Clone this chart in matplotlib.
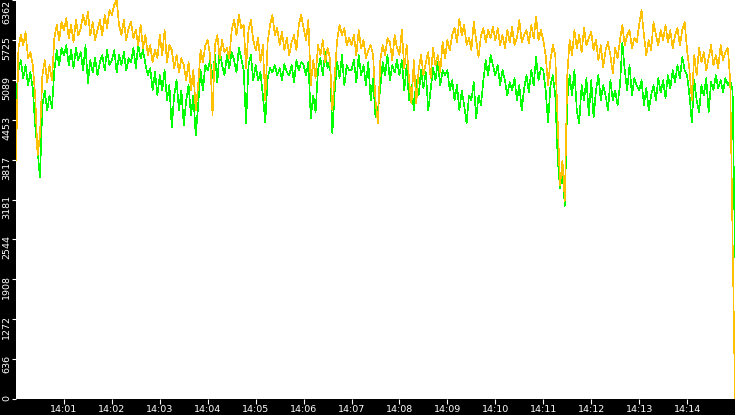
import datetime as dt
import matplotlib
matplotlib.use("Agg")
import matplotlib.pyplot as plt
import matplotlib.dates as mdates
from matplotlib.transforms import ScaledTranslation

# ---- data (3-second samples from 14:00:00 to 14:15:00) ----
start_time = dt.datetime(2024, 1, 1, 14, 0, 0)
step_seconds = 3

yellow_series = [
    3802, 5594, 5802, 5642, 5850, 5434, 5530, 5322, 4842, 3882, 4202, 5162, 5402, 5050, 5322, 5082, 5754, 5962, 5722, 6010,
    5882, 6074, 5754, 5962, 5690, 6042, 5802, 5914, 6122, 5962, 6170, 5802, 6010, 5722, 5882, 6042, 5802, 6122, 5914, 6202,
    6122, 6282, 6362, 5962, 5802, 6042, 5722, 5914, 6010, 5754, 5882, 5642, 5962, 5594, 5802, 5482, 5642, 5370, 5562, 5434,
    5802, 5482, 5882, 5370, 5642, 5562, 5274, 5482, 5210, 5434, 5322, 5082, 5370, 4922, 5242, 4602, 5002, 5562, 5370, 5642,
    5722, 5482, 4522, 5642, 5802, 5434, 5722, 5530, 5594, 5434, 5882, 6042, 5802, 6122, 5914, 5962, 5274, 5882, 6042, 5722,
    5562, 5754, 5370, 5642, 4762, 5690, 5962, 6122, 5802, 5914, 5642, 5850, 5562, 5754, 5482, 5690, 5802, 5562, 5962, 6122,
    5914, 5722, 6042, 5002, 5402, 5114, 5642, 5482, 5722, 5370, 5594, 5434, 4602, 5162, 5722, 5962, 5802, 5914, 5642, 5754,
    5642, 5802, 5482, 5882, 5594, 5722, 5434, 5562, 5642, 5482, 4762, 4394, 5402, 5642, 5482, 5754, 5690, 5402, 5802, 5594,
    5482, 5882, 5274, 5642, 5082, 4714, 5402, 4714, 5242, 5482, 5162, 5370, 5530, 5114, 5594, 5322, 5482, 5210, 5690, 5434,
    5722, 5562, 5802, 5914, 5690, 6058, 5802, 5962, 5642, 5754, 5562, 6010, 5722, 5450, 5802, 5914, 5690, 5882, 5754, 5930,
    5722, 5914, 5642, 5802, 5594, 5882, 5690, 5930, 5642, 5754, 6042, 5690, 5802, 5882, 5674, 5962, 5754, 6090, 5722, 5882,
    5722, 5482, 5002, 5402, 5642, 5482, 4442, 3402, 3802, 3162, 5162, 5722, 5482, 5882, 5594, 5802, 5530, 5914, 5642, 5754,
    5850, 5562, 5722, 5402, 5642, 5290, 5562, 5690, 5482, 5194, 5594, 5434, 5722, 5962, 5642, 5802, 5882, 5594, 5754, 5690,
    5962, 6202, 5802, 5482, 5722, 5562, 6010, 5802, 5642, 5882, 5722, 5962, 5690, 5882, 5594, 5802, 5914, 5642, 5882, 6010,
    5562, 5242, 4762, 5482, 5162, 5594, 5370, 5530, 5242, 5434, 5642, 5322, 5482, 5274, 5642, 5402, 5530, 5594, 5082, 2540, 0,
]

green_series = [
    4762, 5242, 5402, 5114, 5322, 5002, 5210, 4954, 4362, 3962, 3530, 4682, 4922, 4602, 4842, 4634, 5242, 5562, 5322, 5594,
    5482, 5642, 5322, 5562, 5274, 5594, 5402, 5530, 5242, 5642, 5034, 5402, 5210, 5434, 5162, 5370, 5482, 5242, 5562, 5322,
    5402, 5562, 5210, 5482, 5322, 5530, 5242, 5434, 5370, 5594, 5274, 5642, 5434, 5562, 5338, 5162, 5274, 4922, 5210, 4842,
    5162, 4922, 5242, 4762, 5002, 4330, 4842, 5082, 4602, 4922, 4362, 4762, 5002, 4522, 4842, 4202, 4682, 5242, 4922, 5322,
    5242, 5402, 5114, 5482, 5050, 5562, 5322, 5162, 5482, 5274, 5530, 5402, 5210, 5594, 5434, 5242, 4394, 5322, 5482, 5082,
    5322, 5082, 5210, 4842, 4410, 5114, 5274, 5210, 5322, 5162, 5274, 5082, 5338, 5210, 5162, 5322, 5050, 5402, 5242, 5370,
    5322, 5162, 5370, 4474, 4842, 4570, 5242, 5434, 5162, 5530, 5274, 5402, 4234, 4922, 5370, 5114, 5482, 5002, 5322, 5242,
    5242, 5402, 5050, 5482, 5162, 5322, 5002, 5370, 4762, 5114, 4490, 4602, 4954, 5370, 5162, 5482, 5082, 5322, 5210, 5402,
    5162, 5402, 4922, 5322, 4762, 5002, 4602, 5082, 4842, 5242, 4954, 5210, 4602, 4922, 5274, 5082, 5370, 5002, 5242, 5162,
    5242, 4922, 5082, 4762, 5002, 4602, 4922, 4682, 4394, 4842, 4762, 5050, 4474, 4842, 4682, 5082, 5402, 5162, 5482, 5322,
    5162, 5322, 5002, 5242, 5082, 4842, 5050, 4922, 5114, 4762, 5002, 4602, 4954, 5162, 4890, 5242, 5002, 5450, 5082, 5274,
    5242, 4922, 4410, 5002, 5162, 4842, 3850, 3354, 3642, 3082, 4762, 5162, 4842, 5242, 4602, 4394, 5002, 4762, 5114, 4522,
    5082, 4490, 4922, 5162, 4762, 5002, 4842, 4602, 5082, 4762, 4922, 4682, 5002, 5674, 5242, 4922, 5322, 4842, 5114, 5002,
    4922, 5082, 4682, 4954, 4602, 4842, 5002, 4762, 5114, 4890, 5082, 4794, 5162, 4954, 5242, 5050, 5322, 5114, 5450, 5242,
    5162, 4842, 4410, 5082, 4762, 4570, 5002, 4842, 5114, 4570, 5050, 4922, 5162, 4954, 5082, 4890, 5114, 5002, 5082, 4922, 2260,
]

y_max = 6362
y_tick_labels = ["0", "636", "1272", "1908", "2544", "3181", "3817", "4453", "5089", "5725", "6362"]
x_tick_minutes = list(range(1, 15))

times = [start_time + dt.timedelta(seconds=step_seconds * i) for i in range(len(yellow_series))]
end_time = start_time + dt.timedelta(minutes=15)

# ---- figure ----
W, H = 735, 415
fig = plt.figure(figsize=(W / 100, H / 100), dpi=100, facecolor="black")
ax = fig.add_axes([16 / W, 16 / H, (W - 16) / W, (H - 16) / H])
ax.set_facecolor("white")
for s in ax.spines.values():
    s.set_visible(False)

lw = 0.45
ax.plot(times, green_series, color="#00FF00", lw=lw, antialiased=False, zorder=2)
ax.plot(times, yellow_series, color="#FFC000", lw=lw, antialiased=False, zorder=3)

ax.set_xlim(start_time, end_time)
ax.set_ylim(0, y_max)

ax.xaxis.set_major_locator(mdates.MinuteLocator(byminute=x_tick_minutes))
ax.xaxis.set_major_formatter(mdates.DateFormatter("%H:%M"))

yticks = [y_max * i / 10 for i in range(11)]
ax.set_yticks(yticks)
ax.set_yticklabels(y_tick_labels, rotation=90, va="top")

fs = 6.8
ax.tick_params(axis="both", colors="white", direction="out", width=0.8, labelsize=fs)
ax.tick_params(axis="x", length=3.6, pad=1)
ax.tick_params(axis="y", length=3.0, pad=0.3)
for t in ax.get_xticklabels() + ax.get_yticklabels():
    t.set_family("DejaVu Sans")

offset = ScaledTranslation(0, 3 / 72, fig.dpi_scale_trans)
labels = ax.get_yticklabels()
for lab in labels[:-1]:
    lab.set_transform(lab.get_transform() + offset)

fig.savefig("out.png", dpi=100, facecolor="black")
